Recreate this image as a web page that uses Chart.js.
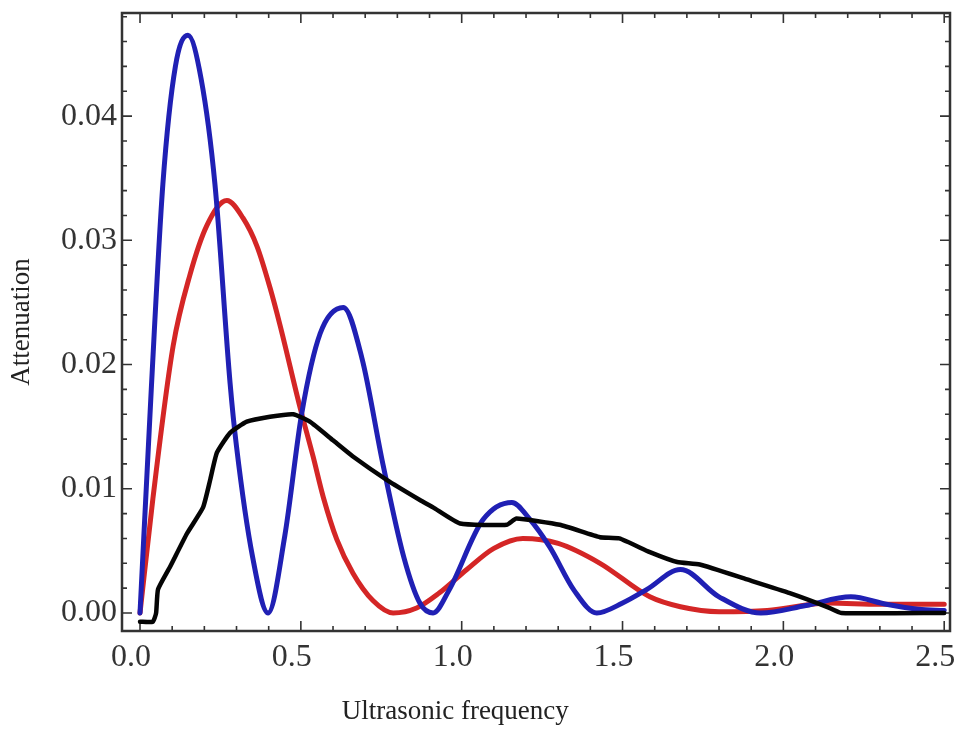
<!DOCTYPE html>
<html>
<head>
<meta charset="utf-8">
<script src="https://cdn.jsdelivr.net/npm/chart.js@4.4.1/dist/chart.umd.min.js"></script>
<style>
body { margin: 0; background: #fff; }
#wrap { width: 956px; height: 729px; }
</style>
</head>
<body>
<div id="wrap"><canvas id="attChart" width="956" height="729"></canvas></div>
<script>
/* ==========================================
DATA
========================================== */

const blueFreq = [0, 0.035, 0.071, 0.11, 0.149, 0.19, 0.233, 0.28, 0.30, 0.35, 0.398, 0.45, 0.503, 0.56, 0.632, 0.69, 0.755, 0.82, 0.87, 0.911, 0.96, 1.066, 1.156, 1.21, 1.274, 1.35, 1.42, 1.50, 1.576, 1.68, 1.80, 1.93, 2.07, 2.21, 2.32, 2.42, 2.5];
const blueAtt = [0, 0.018, 0.0345, 0.044, 0.0465, 0.043, 0.0345, 0.0185, 0.0134, 0.0045, 0, 0.0062, 0.0161, 0.0225, 0.0246, 0.0205, 0.012, 0.0045, 0.0008, 0, 0.0018, 0.0075, 0.0089, 0.0076, 0.0053, 0.0018, 0, 0.0008, 0.0019, 0.0035, 0.0013, 0, 0.0006, 0.0013, 0.0007, 0.0003, 0.0002];

const redFreq = [0, 0.04, 0.103, 0.155, 0.208, 0.27, 0.32, 0.364, 0.404, 0.435, 0.497, 0.538, 0.57, 0.612, 0.662, 0.724, 0.787, 0.86, 0.93, 1.016, 1.1, 1.19, 1.3, 1.43, 1.585, 1.68, 1.8, 1.95, 2.14, 2.3, 2.5];
const redAtt = [0, 0.0092, 0.0215, 0.0272, 0.0312, 0.0332, 0.0318, 0.0295, 0.0262, 0.0232, 0.0166, 0.0126, 0.0093, 0.0059, 0.0032, 0.001, 0, 0.0004, 0.0016, 0.0035, 0.0052, 0.006, 0.0056, 0.004, 0.0013, 0.0005, 0.0001, 0.0002, 0.0008, 0.0007, 0.0007];

const blackFreq = [0, 0.04, 0.05, 0.056, 0.093, 0.146, 0.196, 0.218, 0.239, 0.28, 0.332, 0.404, 0.476, 0.528, 0.6, 0.662, 0.768, 0.87, 0.911, 0.995, 1.14, 1.17, 1.305, 1.43, 1.49, 1.585, 1.67, 1.74, 1.887, 2.02, 2.135, 2.18, 2.5];
const blackAtt = [-0.0007, -0.0007, 0, 0.0019, 0.0037, 0.0064, 0.0085, 0.0107, 0.0129, 0.0145, 0.0154, 0.0158, 0.016, 0.0154, 0.0139, 0.0126, 0.0107, 0.0091, 0.0085, 0.0072, 0.0071, 0.0076, 0.0071, 0.0061, 0.006, 0.0049, 0.0041, 0.0039, 0.0027, 0.0016, 0.0005, 0, 0];

const xTickValues = [0, 0.5, 1, 1.5, 2, 2.5];
const xTickLabels = ["0.0", "0.5", "1.0", "1.5", "2.0", "2.5"];
const yTickValues = [0, 0.01, 0.02, 0.03, 0.04];
const yTickLabels = ["0.00", "0.01", "0.02", "0.03", "0.04"];

const xTitle = "Ultrasonic frequency";
const yTitle = "Attenuation";


/* ==========================================
HELPERS
========================================== */

function toPoints(xs, ys){
return xs.map((x, i) => ({ x: x, y: ys[i] }));
}

function labelFor(values, labels, v){
const i = values.findIndex(t => Math.abs(t - v) < 1e-9);
return i >= 0 ? labels[i] : "";
}

const serif = "'Liberation Serif', 'Times New Roman', serif";

// frame, inward ticks and the x title
const frameTicks = {
id: "frameTicks",
beforeDatasetsDraw(chart){
const ctx = chart.ctx;
const a = chart.chartArea;
const x = chart.scales.x;
const y = chart.scales.y;

ctx.save();
ctx.strokeStyle = "#333";
ctx.lineWidth = 1.6;
ctx.beginPath();

for(let i = 0; i <= 25; i++){
const px = x.getPixelForValue(i / 10);
const len = i % 5 === 0 ? 10 : 5;
ctx.moveTo(px, a.bottom); ctx.lineTo(px, a.bottom - len);
ctx.moveTo(px, a.top); ctx.lineTo(px, a.top + len);
}

for(let j = 0; j * 0.002 <= y.max; j++){
const py = y.getPixelForValue(j * 0.002);
const len = j % 5 === 0 ? 10 : 5;
ctx.moveTo(a.left, py); ctx.lineTo(a.left + len, py);
ctx.moveTo(a.right, py); ctx.lineTo(a.right - len, py);
}
ctx.stroke();

ctx.lineWidth = 2.5;
ctx.strokeRect(a.left, a.top, a.right - a.left, a.bottom - a.top);

ctx.fillStyle = "#222";
ctx.font = "27px " + serif;
ctx.textAlign = "center";
ctx.textBaseline = "middle";
ctx.fillText(xTitle, x.getPixelForValue(0.98), chart.height - 17);
ctx.restore();
}
};


/* ==========================================
CHART
========================================== */

new Chart(
document.getElementById("attChart"),
{
type: "line",

data: {
datasets: [
{
data: toPoints(blackFreq, blackAtt),
borderColor: "#050505",
borderWidth: 4.5,
tension: 0.15
},
{
data: toPoints(blueFreq, blueAtt),
borderColor: "#2020b4",
borderWidth: 5,
cubicInterpolationMode: "monotone"
},
{
data: toPoints(redFreq, redAtt),
borderColor: "#d42626",
borderWidth: 5,
cubicInterpolationMode: "monotone"
}
]
},

options: {
responsive: false,
animation: false,
devicePixelRatio: 1,
layout: {
padding: { top: 13, right: 6, left: 0, bottom: 0 }
},
elements: {
point: { radius: 0 },
line: { borderCapStyle: "round", borderJoinStyle: "round" }
},
plugins: {
legend: { display: false },
tooltip: { enabled: false }
},
scales: {
x: {
type: "linear",
min: -0.056,
max: 2.518,
afterBuildTicks: s => { s.ticks = xTickValues.map(v => ({ value: v })); },
afterFit: s => { s.height = 98; s.paddingLeft = 0; s.paddingRight = 0; },
grid: { display: false, drawTicks: false },
border: { display: false },
ticks: {
autoSkip: false,
maxRotation: 0,
padding: 7,
labelOffset: -9,
color: "#333",
font: { family: serif, size: 32 },
callback: v => labelFor(xTickValues, xTickLabels, v)
}
},
y: {
type: "linear",
min: -0.00145,
max: 0.0483,
afterBuildTicks: s => { s.ticks = yTickValues.map(v => ({ value: v })); },
afterFit: s => { s.width = 122; s.paddingTop = 0; s.paddingBottom = 0; },
grid: { display: false, drawTicks: false },
border: { display: false },
title: {
display: true,
text: yTitle,
color: "#222",
padding: { top: 6, bottom: 0 },
font: { family: serif, size: 27 }
},
ticks: {
padding: 5,
color: "#333",
font: { family: serif, size: 32 },
callback: v => labelFor(yTickValues, yTickLabels, v)
}
}
}
},

plugins: [frameTicks]
}
);
</script>
</body>
</html>
